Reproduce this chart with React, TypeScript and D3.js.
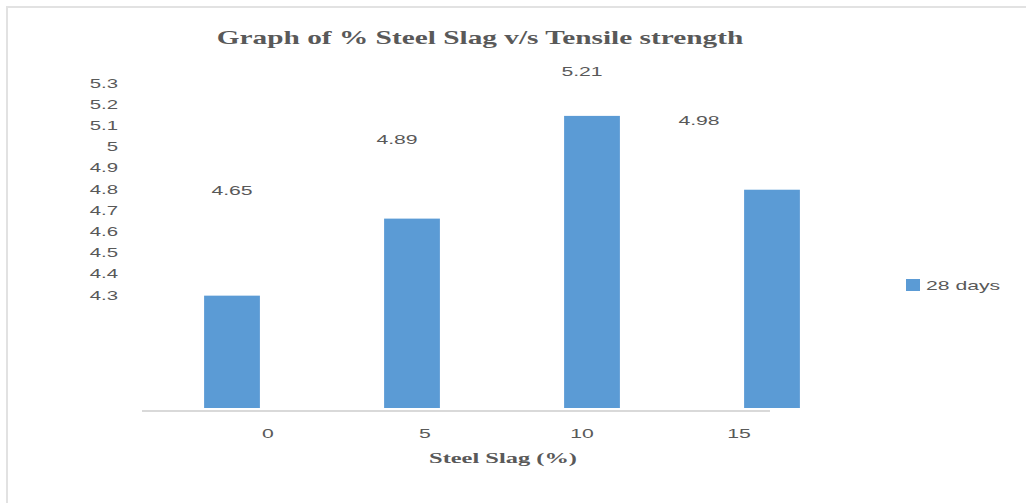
import React from 'react';
import * as d3 from 'd3';

// data
const categories = ['0', '5', '10', '15'];
const tensile = [4.65, 4.89, 5.21, 4.98];
const yTickValues = [4.3, 4.4, 4.5, 4.6, 4.7, 4.8, 4.9, 5, 5.1, 5.2, 5.3];
const seriesName = '28 days';

const W = 1026;
const H = 503;
const SX = 1.63; // the source picture is stretched sideways
const GREY = '#595959';
const BAR = '#5b9bd5';

// label nudges seen in the source (px, relative to bar centre)
const labelDx = [0, -15, -10, -73];

type TProps = {
    x: number;
    y: number;
    size: number;
    anchor?: 'start' | 'middle' | 'end';
    serif?: boolean;
    children: React.ReactNode;
};

const SText: React.FC<TProps> = ({ x, y, size, anchor = 'middle', serif, children }) => (
    <text
        transform={`translate(${x},${y}) scale(${SX},1)`}
        textAnchor={anchor}
        fontSize={size}
        fontWeight={serif ? 'bold' : 'normal'}
        fontFamily={serif ? '"Liberation Serif", "Times New Roman", serif' : '"Liberation Sans", Arial, sans-serif'}
        fill={GREY}
    >
        {children}
    </text>
);

export default function App() {
    // bar layout
    const xBar = d3.scaleBand<string>()
        .domain(categories)
        .range([142, 862])
        .paddingInner(0.69)
        .paddingOuter(0.345);
    const yBar = d3.scaleLinear().domain([4.3, 5.3]).range([408, 87]);

    // the value axis labels sit on their own scale in the source
    const yTick = d3.scaleLinear().domain([4.3, 5.3]).range([295, 83]);
    // category labels do not line up with the bars either
    const xLabel = d3.scalePoint<string>().domain(categories).range([268, 739]);

    const bw = xBar.bandwidth();

    return (
        <svg width={W} height={H} style={{ position: 'absolute', left: 0, top: 0, display: 'block', background: '#fff' }}>
            <rect x={0} y={0} width={W} height={H} fill="#fff" />
            <rect x={7} y={7} width={W + 100} height={H + 100} fill="none" stroke="#e2e2e2" strokeWidth={2} />

            <SText x={480} y={44} size={18} serif>Graph of % Steel Slag v/s Tensile strength</SText>

            {/* value labels */}
            {yTickValues.map(v => (
                <SText key={v} x={118} y={yTick(v) + 4.5} size={12.5} anchor="end">{String(v)}</SText>
            ))}

            {/* bars */}
            {categories.map((c, i) => (
                <rect
                    key={c}
                    x={xBar(c)}
                    y={yBar(tensile[i])}
                    width={bw}
                    height={yBar(4.3) - yBar(tensile[i])}
                    fill={BAR}
                />
            ))}

            {/* data labels */}
            {categories.map((c, i) => (
                <SText key={c} x={(xBar(c) ?? 0) + bw / 2 + labelDx[i]} y={yTick(tensile[i]) - 31 + 5} size={13}>
                    {String(tensile[i])}
                </SText>
            ))}

            {/* category axis */}
            <line x1={142} x2={770} y1={411} y2={411} stroke="#d9d9d9" strokeWidth={2} />
            {categories.map(c => (
                <SText key={c} x={xLabel(c) ?? 0} y={438} size={13}>{c}</SText>
            ))}
            <SText x={503} y={463} size={15} serif>Steel Slag (%)</SText>

            {/* legend */}
            <rect x={906} y={279} width={14} height={12} fill={BAR} />
            <SText x={926} y={290} size={13} anchor="start">{seriesName}</SText>
        </svg>
    );
}
